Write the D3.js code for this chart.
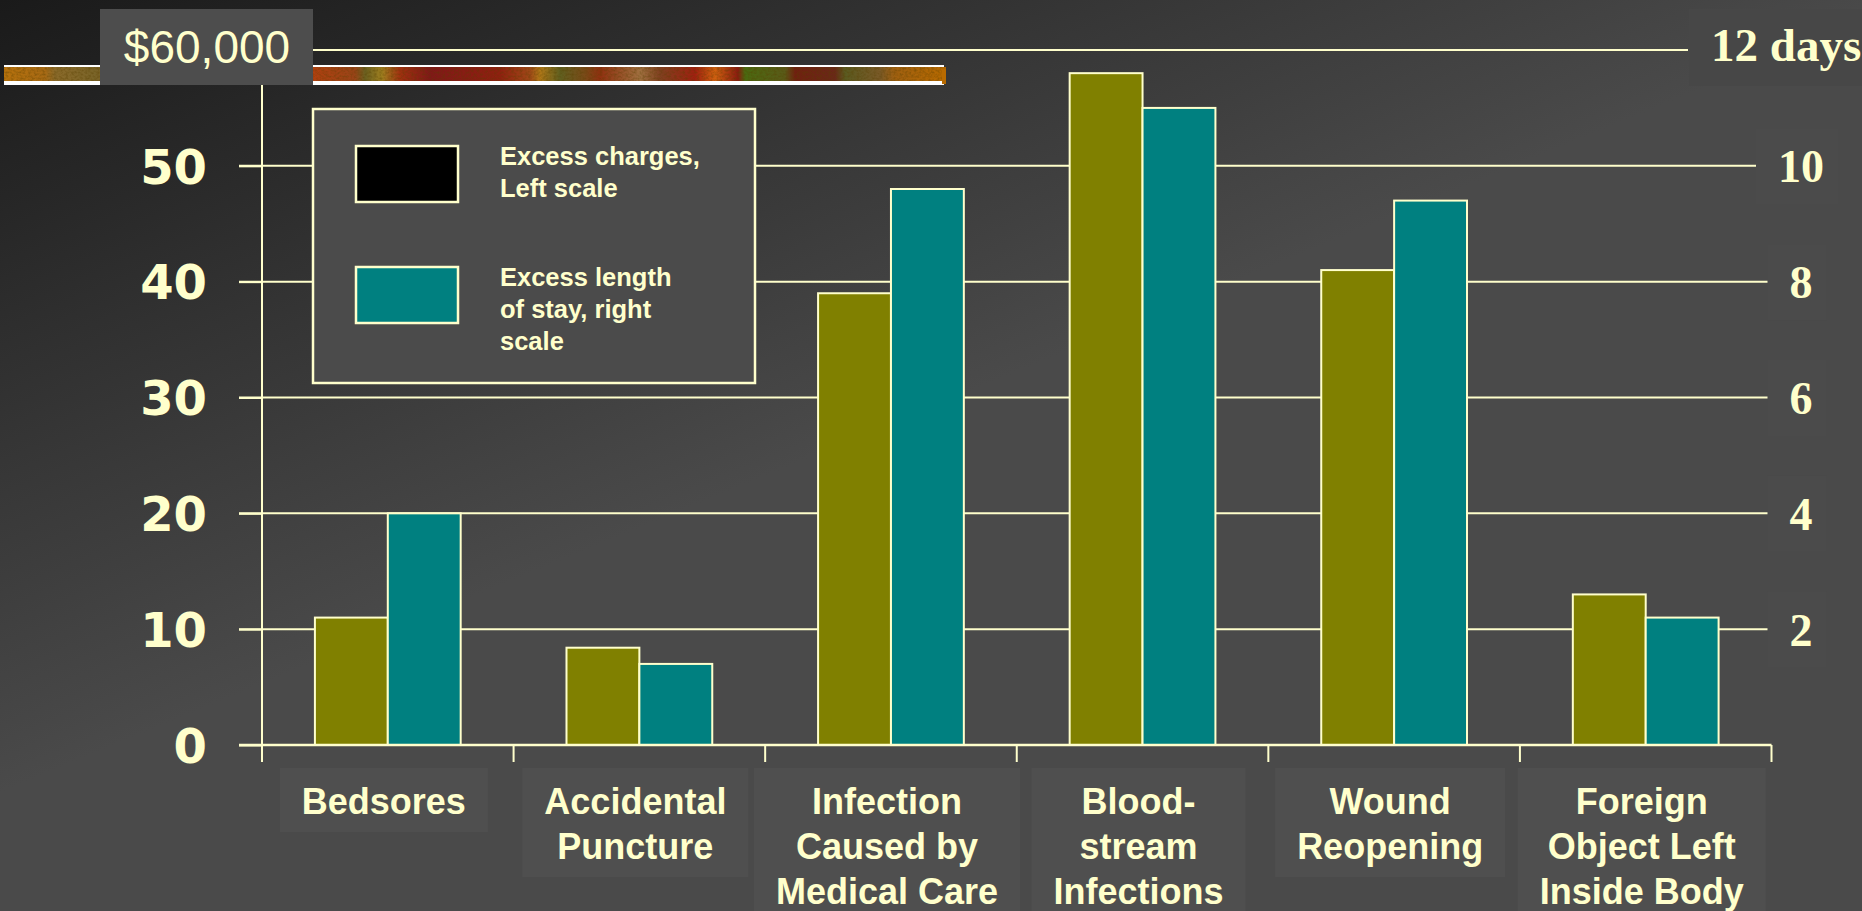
<!DOCTYPE html>
<html>
<head>
<meta charset="utf-8">
<script src="https://cdn.jsdelivr.net/npm/d3@7"></script>
<style>
  html, body { margin: 0; padding: 0; background: #2a2a2a; overflow: hidden; }
  svg { display: block; }
</style>
</head>
<body>
<svg id="chart" width="1862" height="911"></svg>
<script>
// Adverse hospital events: excess charges (thousands of $) and excess length of stay (days)
const categories = ["Bedsores", "Accidental Puncture", "Infection Caused by Medical Care",
                    "Blood-stream Infections", "Wound Reopening", "Foreign Object Left Inside Body"];
const categoryLines = [["Bedsores"], ["Accidental", "Puncture"], ["Infection", "Caused by", "Medical Care"],
                       ["Blood-", "stream", "Infections"], ["Wound", "Reopening"], ["Foreign", "Object Left", "Inside Body"]];
const excessCharges = [11, 8.4, 39, 58, 41, 13];      // left scale, $ thousands
const excessStayDays = [4, 1.4, 9.6, 11, 9.4, 2.2];   // right scale, days
const leftTicks = [0, 10, 20, 30, 40, 50];
const leftTopLabel = "$60,000";
const rightTicks = [2, 4, 6, 8, 10];
const rightTopLabel = "12 days";
const seriesKeys = ["charges", "stay"];
const seriesColors = ["#808000", "#008080"];
const legendLabels = [["Excess charges,", "Left scale"], ["Excess length", "of stay, right", "scale"]];
const legendColors = ["#000000", "#008080"];
// decorative banner colours (offset in px along the strip, colour)
const bannerStops = [[0, "#b8720c"], [45, "#a86a14"], [55, "#8a6a2a"], [95, "#7a6428"],
  [313, "#b04010"], [355, "#9a4418"], [365, "#6a6020"], [382, "#a08020"], [400, "#a03010"],
  [430, "#801818"], [500, "#902010"], [530, "#a04818"], [540, "#b07818"], [560, "#606020"],
  [585, "#7a4a18"], [600, "#903010"], [640, "#a07040"], [660, "#804020"], [695, "#a02010"],
  [715, "#d06010"], [738, "#8a1a10"], [745, "#4a6a10"], [785, "#5a5a18"], [795, "#702010"],
  [835, "#6a2818"], [845, "#5a5a20"], [880, "#7a5a28"], [895, "#a06010"], [946, "#b86a00"]];

const W = 1862, H = 911;
const cream = "#ffffcc";
const svg = d3.select("#chart");
const defs = svg.append("defs");

// background: dark top-left to mid grey
const bg = defs.append("linearGradient").attr("id", "bg")
  .attr("gradientUnits", "userSpaceOnUse")
  .attr("x1", 0).attr("y1", 0).attr("x2", 280).attr("y2", 677);
bg.append("stop").attr("offset", 0).attr("stop-color", "#1a1a1a");
bg.append("stop").attr("offset", 1).attr("stop-color", "#4a4a4a");
svg.append("rect").attr("width", W).attr("height", H).attr("fill", "url(#bg)");

// scales
const x0 = d3.scaleBand().domain(categories).range([262, 1771.5]).paddingInner(0).paddingOuter(0);
const x1 = d3.scaleBand().domain(seriesKeys).range([0, x0.bandwidth()]).paddingInner(0).paddingOuter(0.726);
const yLeft = d3.scaleLinear().domain([0, 60]).range([745, 50]);
const yRight = d3.scaleLinear().domain([0, 12]).range([745, 50]);

// banner strip
const bannerEnd = 946;
const bg2 = defs.append("linearGradient").attr("id", "banner")
  .attr("gradientUnits", "userSpaceOnUse").attr("x1", 0).attr("x2", bannerEnd).attr("y1", 0).attr("y2", 0);
bannerStops.forEach(s => bg2.append("stop").attr("offset", s[0] / bannerEnd).attr("stop-color", s[1]));
const grain = defs.append("filter").attr("id", "grain").attr("x", 0).attr("y", 0).attr("width", 1).attr("height", 1);
grain.append("feTurbulence").attr("type", "fractalNoise").attr("baseFrequency", "0.35 0.5").attr("numOctaves", 2).attr("seed", 7).attr("result", "n");
grain.append("feColorMatrix").attr("in", "n").attr("type", "matrix")
  .attr("values", "0 0 0 0 0.1  0 0 0 0 0.05  0 0 0 0 0  0 0 0 -1.6 1.0").attr("result", "d");
grain.append("feComposite").attr("in", "d").attr("in2", "SourceGraphic").attr("operator", "in");

const banner = svg.append("g");
banner.append("rect").attr("x", 4).attr("y", 65).attr("width", bannerEnd - 4 - 2).attr("height", 20).attr("fill", "#ffffff");
banner.append("rect").attr("x", 4).attr("y", 67).attr("width", bannerEnd - 4).attr("height", 14).attr("fill", "url(#banner)");
banner.append("rect").attr("x", 4).attr("y", 67).attr("width", bannerEnd - 4).attr("height", 14).attr("fill", "#000").attr("filter", "url(#grain)").attr("opacity", 0.55);
banner.append("rect").attr("x", bannerEnd - 4).attr("y", 69).attr("width", 4).attr("height", 15).attr("fill", "#b86a00");

// gridlines (left scale)
const grid = svg.append("g");
grid.selectAll("line.g").data(leftTicks.filter(t => t > 0)).join("line")
  .attr("x1", 239).attr("x2", 1771.5)
  .attr("y1", d => yLeft(d)).attr("y2", d => yLeft(d))
  .attr("stroke", cream).attr("stroke-width", 2);
grid.append("line").attr("x1", 313).attr("x2", 1688)
  .attr("y1", yLeft(60)).attr("y2", yLeft(60)).attr("stroke", cream).attr("stroke-width", 2);

// bars
const groups = svg.append("g").selectAll("g").data(categories).join("g")
  .attr("transform", d => `translate(${x0(d)},0)`);
groups.selectAll("rect").data((d, i) => [
  { key: "charges", y: yLeft(excessCharges[i]) },
  { key: "stay", y: yRight(excessStayDays[i]) }
]).join("rect")
  .attr("x", d => x1(d.key)).attr("width", x1.bandwidth())
  .attr("y", d => d.y).attr("height", d => yLeft(0) - d.y)
  .attr("fill", d => seriesColors[seriesKeys.indexOf(d.key)])
  .attr("stroke", cream).attr("stroke-width", 2);

// x axis baseline and category ticks
const xAxis = svg.append("g");
xAxis.append("line").attr("x1", 239).attr("x2", 1771.5).attr("y1", yLeft(0)).attr("y2", yLeft(0))
  .attr("stroke", cream).attr("stroke-width", 2.5);
const bounds = categories.map(c => x0(c)).concat([x0.range()[1]]);
xAxis.selectAll("line.t").data(bounds).join("line").attr("class", "t")
  .attr("x1", d => d).attr("x2", d => d).attr("y1", yLeft(0)).attr("y2", yLeft(0) + 17)
  .attr("stroke", cream).attr("stroke-width", 2);

// left axis via d3 axis
const leftAxis = svg.append("g").attr("transform", "translate(262,0)")
  .call(d3.axisLeft(yLeft).tickValues(leftTicks).tickSize(23).tickPadding(32).tickFormat(d3.format("d")));
leftAxis.select(".domain").remove();
leftAxis.append("line").attr("x1", 0).attr("x2", 0).attr("y1", 85).attr("y2", yLeft(0) + 17)
  .attr("stroke", cream).attr("stroke-width", 2);
leftAxis.selectAll(".tick line").attr("stroke", cream).attr("stroke-width", 2);
leftAxis.selectAll(".tick text")
  .attr("fill", cream).attr("font-family", "'DejaVu Sans', sans-serif").attr("font-weight", "bold")
  .attr("font-size", 48).attr("dy", "0.36em");

// right axis labels with faint boxes
const rightAxis = svg.append("g").attr("transform", "translate(1801,0)")
  .call(d3.axisRight(yRight).tickValues(rightTicks).tickSize(0).tickPadding(0).tickFormat(d3.format("d")));
rightAxis.select(".domain").remove();
rightAxis.selectAll(".tick text")
  .attr("fill", cream).attr("font-family", "'Liberation Serif', 'Times New Roman', serif").attr("font-weight", "bold")
  .attr("font-size", 46).attr("text-anchor", "middle").attr("dy", "0.35em");
rightAxis.selectAll(".tick").each(function () {
  const t = d3.select(this);
  const bb = t.select("text").node().getBBox();
  t.insert("rect", "text").attr("x", bb.x - 22).attr("y", -38).attr("width", bb.width + 36).attr("height", 76)
    .attr("fill", "#4b4b4b");
});

// category labels with boxes
const catLabels = svg.append("g").selectAll("g").data(categories).join("g")
  .attr("transform", d => `translate(${x0(d) + x0.bandwidth() / 2 - 4},0)`);
catLabels.each(function (d, i) {
  const g = d3.select(this);
  const lines = categoryLines[i];
  const box = g.append("rect").attr("fill", "#4f4f4f");
  const txt = g.append("text").attr("fill", cream)
    .attr("font-family", "'Liberation Sans', Arial, sans-serif").attr("font-weight", "bold")
    .attr("font-size", 36).attr("text-anchor", "middle");
  lines.forEach((l, k) => txt.append("tspan").attr("x", 0).attr("y", 801 + k * 45).attr("dy", "0.36em").text(l));
  const bb = txt.node().getBBox();
  box.attr("x", bb.x - 22).attr("width", bb.width + 44)
    .attr("y", 768).attr("height", 801 + (lines.length - 1) * 45 + 31 - 768);
});

// legend
const legend = svg.append("g");
legend.append("rect").attr("x", 313).attr("y", 109).attr("width", 442).attr("height", 274)
  .attr("fill", "#4b4b4b").attr("stroke", cream).attr("stroke-width", 2.5);
const legendItems = legend.selectAll("g").data(legendLabels).join("g")
  .attr("transform", (d, i) => `translate(0,${i * 121})`);
legendItems.append("rect").attr("x", 356).attr("y", 146).attr("width", 102).attr("height", 56)
  .attr("fill", (d, i) => legendColors[i]).attr("stroke", cream).attr("stroke-width", 2.5);
legendItems.append("text").attr("fill", cream)
  .attr("font-family", "'Liberation Sans', Arial, sans-serif").attr("font-weight", "bold").attr("font-size", 25.5)
  .selectAll("tspan").data(d => d).join("tspan")
  .attr("x", 500).attr("y", (d, k) => 165 + k * 32).text(d => d);

// top scale labels in boxes
svg.append("rect").attr("x", 100).attr("y", 9).attr("width", 213).attr("height", 76).attr("fill", "#4d4d4d");
svg.append("text").attr("x", 207).attr("y", 63).attr("text-anchor", "middle").attr("fill", cream)
  .attr("font-family", "'Liberation Sans', Arial, sans-serif").attr("font-size", 46).text(leftTopLabel);
svg.append("rect").attr("x", 1689).attr("y", 9).attr("width", 173).attr("height", 77).attr("fill", "#474747");
svg.append("text").attr("x", 1711).attr("y", 61).attr("fill", cream)
  .attr("font-family", "'Liberation Serif', 'Times New Roman', serif").attr("font-weight", "bold")
  .attr("font-size", 47).text(rightTopLabel);
</script>
</body>
</html>
